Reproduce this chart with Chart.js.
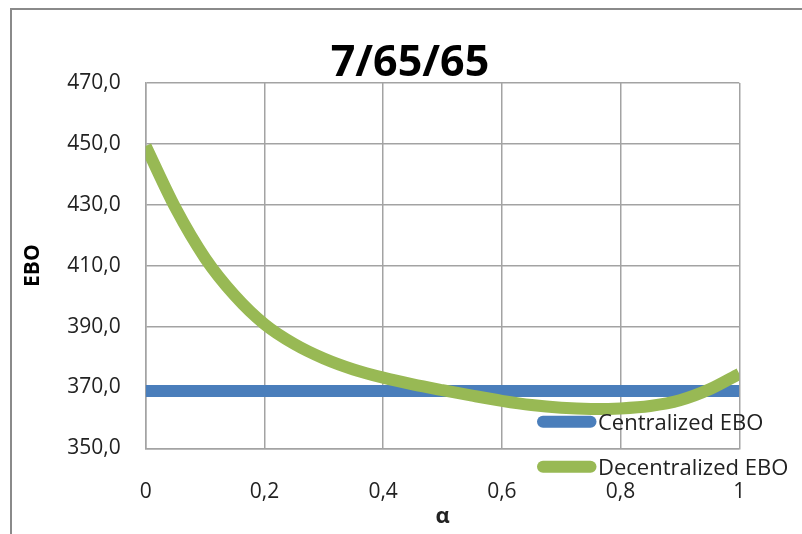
<!DOCTYPE html>
<html>
<head>
<meta charset="utf-8">
<script src="https://cdn.jsdelivr.net/npm/chart.js@4.4.0/dist/chart.umd.min.js"></script>
<style>
  html, body { margin: 0; padding: 0; background: #fff; }
  #wrap { position: relative; width: 802px; height: 534px; overflow: hidden; }
  #frame { position: absolute; left: 10px; top: 8px; width: 900px; height: 700px;
           border-left: 2px solid #8a8a8a; border-top: 2px solid #8a8a8a; }
  canvas { position: absolute; left: 0; top: 0; }
</style>
</head>
<body>
<div id="wrap">
  <div id="frame"></div>
  <canvas id="c" width="802" height="534"></canvas>
</div>
<script>
// Chart content
const chartTitle = '7/65/65';
const yAxisTitle = 'EBO';
const xAxisTitle = 'α';
const seriesNames = ['Centralized EBO', 'Decentralized EBO'];

const alpha = [0, 0.05, 0.1, 0.15, 0.2, 0.25, 0.3, 0.35, 0.4, 0.45, 0.5,
               0.55, 0.6, 0.65, 0.7, 0.75, 0.8, 0.85, 0.9, 0.95, 1];
const centralizedEBO = [368.8, 368.8, 368.8, 368.8, 368.8, 368.8, 368.8, 368.8, 368.8, 368.8, 368.8,
                        368.8, 368.8, 368.8, 368.8, 368.8, 368.8, 368.8, 368.8, 368.8, 368.8];
const decentralizedEBO = [449.3, 429.0, 412.5, 400.2, 390.8, 384.3, 379.5, 375.9, 373.2, 371.0, 369.1,
                          367.3, 365.6, 364.2, 363.3, 362.9, 363.1, 363.9, 365.8, 369.4, 374.5];

const xTickLabels = ['0', '0,2', '0,4', '0,6', '0,8', '1'];
const yTickLabels = ['350,0', '370,0', '390,0', '410,0', '430,0', '450,0', '470,0'];

const BLUE = '#4a7ebb';
const GREEN = '#98b954';
const GRID = '#a3a3a3';
const TEXT = '#222222';
const FONT = '"Open Sans", "Noto Sans", sans-serif';

const toPoints = (xs, ys) => xs.map((x, i) => ({ x: x, y: ys[i] }));

// Title and in-plot legend drawn on top of the series
const overlay = {
  id: 'overlay',
  afterDatasetsDraw(chart) {
    const ctx = chart.ctx;
    const items = [
      { label: seriesNames[0], color: BLUE, y: 421.7 },
      { label: seriesNames[1], color: GREEN, y: 466.7 }
    ];
    ctx.save();
    items.forEach(it => {
      ctx.beginPath();
      ctx.lineWidth = 12;
      ctx.lineCap = 'round';
      ctx.strokeStyle = it.color;
      ctx.moveTo(543, it.y);
      ctx.lineTo(590.5, it.y);
      ctx.stroke();
      ctx.font = '22px ' + FONT;
      ctx.fillStyle = TEXT;
      ctx.textAlign = 'left';
      ctx.textBaseline = 'alphabetic';
      ctx.fillText(it.label, 598, it.y + 8.5);
    });
    ctx.restore();
  },
  afterDraw(chart) {
    const ctx = chart.ctx;
    ctx.save();
    ctx.font = 'bold 43px ' + FONT;
    ctx.fillStyle = '#000';
    ctx.textAlign = 'center';
    ctx.textBaseline = 'alphabetic';
    ctx.fillText(chartTitle, 410, 76);
    ctx.restore();
  }
};

new Chart(document.getElementById('c'), {
  type: 'line',
  data: {
    datasets: [
      {
        label: seriesNames[0],
        data: toPoints(alpha, centralizedEBO),
        borderColor: BLUE,
        backgroundColor: BLUE,
        borderWidth: 12,
        borderCapStyle: 'butt',
        pointRadius: 0,
        tension: 0,
        order: 2
      },
      {
        label: seriesNames[1],
        data: toPoints(alpha, decentralizedEBO),
        borderColor: GREEN,
        backgroundColor: GREEN,
        borderWidth: 12,
        borderCapStyle: 'butt',
        pointRadius: 0,
        tension: 0.3,
        order: 1
      }
    ]
  },
  options: {
    responsive: false,
    animation: false,
    devicePixelRatio: 1,
    layout: { padding: { left: 0, right: 62.7, top: 83, bottom: 0 } },
    plugins: {
      legend: { display: false },
      title: { display: false },
      tooltip: { enabled: false }
    },
    scales: {
      x: {
        type: 'linear',
        min: 0,
        max: 1,
        afterFit(scale) { scale.height = 85.7; },
        ticks: {
          stepSize: 0.2,
          padding: 31,
          color: TEXT,
          font: { family: FONT, size: 21 },
          maxRotation: 0,
          autoSkip: false,
          callback: (v, i) => xTickLabels[i]
        },
        grid: { color: GRID, lineWidth: 1.5, drawTicks: false },
        border: { color: GRID, width: 1.5 },
        title: {
          display: true,
          text: xAxisTitle,
          color: TEXT,
          font: { family: FONT, size: 22, weight: 'bold' },
          padding: { top: 0, bottom: 4 }
        }
      },
      y: {
        min: 350,
        max: 470,
        afterFit(scale) { scale.width = 145.7; },
        ticks: {
          stepSize: 20,
          padding: 25,
          color: TEXT,
          font: { family: FONT, size: 21 },
          callback: (v, i) => yTickLabels[i]
        },
        grid: { color: GRID, lineWidth: 1.5, drawTicks: false },
        border: { color: GRID, width: 1.5 },
        title: {
          display: true,
          text: yAxisTitle,
          color: '#000',
          font: { family: FONT, size: 21, weight: 'bold' },
          padding: { top: 20, bottom: 0 }
        }
      }
    }
  },
  plugins: [overlay]
});
</script>
</body>
</html>
